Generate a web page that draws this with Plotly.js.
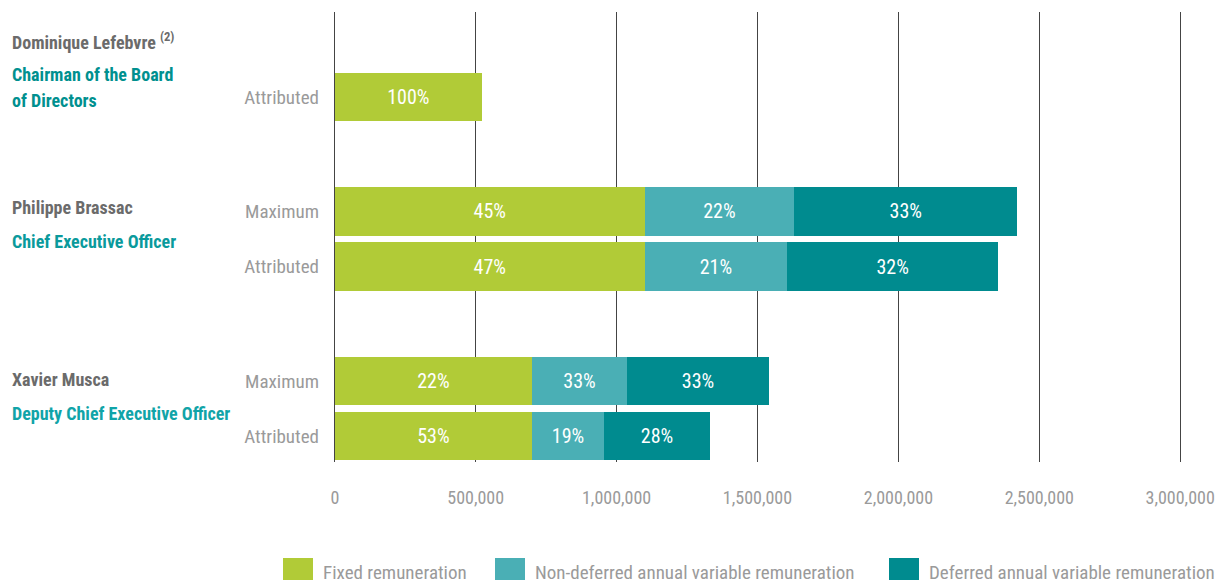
<!DOCTYPE html>
<html>
<head>
<meta charset="utf-8">
<script src="https://cdn.plot.ly/plotly-3.0.1.min.js"></script>
<style>html,body{margin:0;padding:0;background:#fff;}#chart{width:1224px;height:583px;}</style>
</head>
<body>
<div id="chart"></div>
<script>
// ---- data ----
var rowLabels = ["Attributed", "Maximum", "Attributed", "Maximum", "Attributed"];
var rowGroup = [0, 1, 1, 2, 2];
var personNames = ["Dominique Lefebvre <sup>(2)</sup>", "Philippe Brassac", "Xavier Musca"];
var personTitles = [["Chairman of the Board", "of Directors"], ["Chief Executive Officer"], ["Deputy Chief Executive Officer"]];
var seriesNames = ["Fixed remuneration", "Non-deferred annual variable remuneration", "Deferred annual variable remuneration"];
var fixedValues = [522000, 1100000, 1100000, 700000, 700000];
var nonDeferredValues = [null, 530000, 505000, 337000, 255000];
var deferredValues = [null, 792000, 749000, 504000, 377000];
var fixedText = ["100%", "45%", "47%", "22%", "53%"];
var nonDeferredText = [null, "22%", "21%", "33%", "19%"];
var deferredText = [null, "33%", "32%", "33%", "28%"];
var xTickValues = [0, 500000, 1000000, 1500000, 2000000, 2500000, 3000000];

// ---- styling / layout ----
var FONT = "'Liberation Sans Narrow', 'Roboto Condensed', 'DejaVu Sans Condensed', sans-serif";
var colors = ["#B1CB37", "#4AAFB5", "#008B8F"];
var W = 1224, H = 583;
var M = {l: 332, r: 41, t: 12, b: 121};
var PW = W - M.l - M.r, PH = H - M.t - M.b;
function px(x) { return (x - M.l) / PW; }
function py(y) { return 1 - (y - M.t) / PH; }

// slot positions: a gap between groups
var GAP = 1.08;
var slots = [];
var s = 0;
for (var i = 0; i < rowGroup.length; i++) {
  if (i > 0) s += (rowGroup[i] !== rowGroup[i - 1]) ? 1 + GAP : 1;
  slots.push(s);
}

var valueSets = [fixedValues, nonDeferredValues, deferredValues];
var textSets = [fixedText, nonDeferredText, deferredText];
var traces = valueSets.map(function (vals, k) {
  var xs = [], ys = [], ts = [];
  for (var i = 0; i < vals.length; i++) {
    if (vals[i] === null) continue;
    xs.push(vals[i]); ys.push(slots[i]); ts.push(textSets[k][i]);
  }
  return {
    type: "bar",
    orientation: "h",
    name: seriesNames[k],
    x: xs,
    y: ys,
    text: ts,
    textposition: "inside",
    insidetextanchor: "middle",
    textangle: 0,
    textfont: {family: FONT, size: 20, color: "#ffffff"},
    marker: {color: colors[k], line: {width: 0}},
    width: 0.873,
    hoverinfo: "x+name",
    showlegend: false
  };
});

var annotations = [];
var nameY = [41, 208, 379];
var titleY = [74, 242, 413];
var titleColors = ["#00908F", "#0A9A9C", "#10A4A8"];
for (var g = 0; g < personNames.length; g++) {
  annotations.push({
    xref: "paper", yref: "paper", x: px(10), y: py(nameY[g]),
    xanchor: "left", yanchor: "middle", showarrow: false, align: "left",
    text: "<b>" + personNames[g] + "</b>",
    font: {family: FONT, size: 18, color: "#6b6b6b"}
  });
  for (var ln = 0; ln < personTitles[g].length; ln++) {
    annotations.push({
      xref: "paper", yref: "paper", x: px(10), y: py(titleY[g] + ln * 26),
      xanchor: "left", yanchor: "middle", showarrow: false, align: "left",
      text: "<b>" + personTitles[g][ln] + "</b>",
      font: {family: FONT, size: 18, color: titleColors[g]}
    });
  }
}

// custom legend
var shapes = [];
var legendX = [283, 495, 889];
for (var k = 0; k < seriesNames.length; k++) {
  shapes.push({
    type: "rect", xref: "paper", yref: "paper",
    x0: px(legendX[k]), x1: px(legendX[k] + 30),
    y0: py(558), y1: py(580),
    fillcolor: colors[k], line: {width: 0}
  });
  annotations.push({
    xref: "paper", yref: "paper", x: px(legendX[k] + 38), y: py(572),
    xanchor: "left", yanchor: "middle", showarrow: false,
    text: seriesNames[k],
    font: {family: FONT, size: 19, color: "#9a9a9a"}
  });
}

var yTop = slots[0] - 85 / 55;
var yBottom = slots[slots.length - 1] + 26 / 55;

var layout = {
  width: W, height: H,
  margin: M,
  barmode: "stack",
  paper_bgcolor: "#ffffff",
  plot_bgcolor: "#ffffff",
  showlegend: false,
  font: {family: FONT, color: "#9a9a9a"},
  xaxis: {
    range: [-10000, 3010000],
    tickvals: xTickValues,
    tickformat: ",d",
    showgrid: true, gridcolor: "#444444", gridwidth: 1,
    zeroline: true, zerolinecolor: "#444444", zerolinewidth: 1,
    showline: false, ticks: "",
    ticklabelstandoff: 23,
    tickfont: {family: FONT, size: 18, color: "#9a9a9a"},
    fixedrange: true
  },
  yaxis: {
    range: [yBottom, yTop],
    tickvals: slots,
    ticktext: rowLabels,
    showgrid: false, zeroline: false, showline: false, ticks: "",
    ticklabelstandoff: 12,
    tickfont: {family: FONT, size: 19, color: "#9a9a9a"},
    fixedrange: true
  },
  shapes: shapes,
  annotations: annotations
};

Plotly.newPlot("chart", traces, layout, {displayModeBar: false, staticPlot: true});
</script>
</body>
</html>
